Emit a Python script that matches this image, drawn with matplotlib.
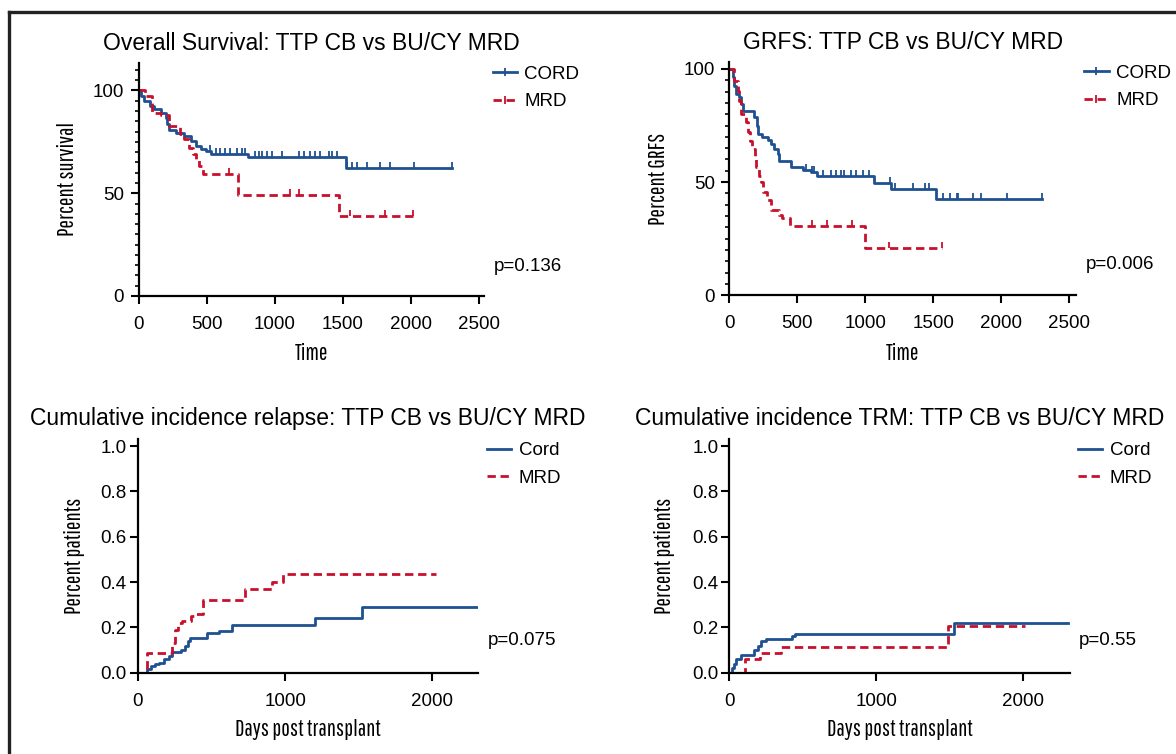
import numpy as np
import matplotlib
matplotlib.use("Agg")
import matplotlib.pyplot as plt
from matplotlib import font_manager
from matplotlib.lines import Line2D
from matplotlib.ticker import MultipleLocator

plt.rcParams['font.family'] = ['Liberation Sans', 'DejaVu Sans']

BLUE = '#1f5190'
RED = '#c8102e'

# condensed face for the axis titles, with fallbacks
installed = {f.name for f in font_manager.fontManager.ttflist}
LABEL_FONT, LABEL_SIZE = 'Liberation Sans', 10.5
for fam, size in [('Pathway Gothic One', 16.5), ('Archivo Narrow', 12.5)]:
    if fam in installed:
        LABEL_FONT, LABEL_SIZE = fam, size
        break

# ---- Overall survival (percent) ----
os_cord_t = [0, 20, 44, 81, 117, 166, 203, 212, 224, 276, 337, 386, 423, 460, 496, 533, 802, 1520, 2300]
os_cord_s = [100, 97.5, 94.8, 92.4, 90.8, 89.2, 86.7, 83.5, 81, 79.5, 77.8, 75.4, 73, 71.4, 70.5, 69, 67.4, 62.2, 62.2]
os_cord_cens = [528, 565, 601, 638, 674, 723, 760, 784, 858, 882, 907, 944, 980, 1053, 1175, 1212,
                1261, 1298, 1334, 1395, 1420, 1456, 1530, 1567, 1603, 1677, 1774, 1848, 2019, 2300]
os_mrd_t = [0, 49, 100, 166, 224, 303, 337, 373, 398, 423, 447, 472, 729, 1472, 2014]
os_mrd_s = [100, 97.2, 89.2, 88, 82.7, 78.6, 76.2, 72.2, 69, 66.5, 63.3, 59.2, 49.2, 39.1, 39.1]
os_mrd_cens = [667, 1114, 1175, 1554, 1811, 2014]

# ---- GRFS (percent) ----
gr_cord_t = [0, 24, 36, 48, 73, 85, 98, 183, 200, 213, 240, 281, 306, 330, 355, 367, 453, 539, 600,
             642, 1063, 1186, 1519, 2296]
gr_cord_s = [100, 96.3, 92.6, 89, 87.5, 84.5, 81.6, 78.7, 75, 71.3, 69.8, 68.6, 66.9, 64.6, 62.4, 59.5,
             56.6, 55.4, 54.3, 52.9, 49.8, 46.8, 42.4, 42.4]
gr_cord_cens = [563, 607, 624, 690, 747, 784, 820, 845, 894, 931, 980, 1030, 1181, 1218, 1348, 1438,
                1470, 1573, 1622, 1671, 1683, 1789, 1848, 2039, 2296]
gr_mrd_t = [0, 36, 61, 73, 85, 124, 137, 154, 169, 186, 198, 215, 230, 244, 280, 307, 362, 390, 445, 995, 1563]
gr_mrd_s = [100, 94.8, 90.4, 86, 80.1, 76.4, 72, 68.3, 64.6, 61, 56.6, 52.9, 49.9, 45.8, 42.1, 37.7,
            35.5, 34, 30.8, 20.8, 20.8]
gr_mrd_cens = [609, 720, 898, 1173, 1563]

# ---- Cumulative incidence of relapse ----
cir_cord_t = [0, 65, 91, 117, 145, 180, 210, 230, 290, 320, 340, 355, 470, 550, 640, 1200, 1519, 2306]
cir_cord_v = [0, 0.015, 0.03, 0.04, 0.045, 0.06, 0.075, 0.09, 0.10, 0.12, 0.14, 0.155, 0.175, 0.185,
              0.21, 0.24, 0.29, 0.29]
cir_mrd_t = [0, 60, 234, 250, 273, 299, 364, 390, 442, 727, 909, 987, 2026]
cir_mrd_v = [0, 0.085, 0.13, 0.19, 0.22, 0.23, 0.25, 0.26, 0.32, 0.37, 0.40, 0.435, 0.435]

# ---- Cumulative incidence of TRM ----
trm_cord_t = [0, 18, 30, 43, 81, 170, 196, 216, 246, 424, 445, 1530, 2305]
trm_cord_v = [0, 0.02, 0.04, 0.06, 0.08, 0.10, 0.12, 0.14, 0.15, 0.16, 0.17, 0.22, 0.22]
trm_mrd_t = [0, 107, 208, 348, 1487, 2013]
trm_mrd_v = [0, 0.06, 0.085, 0.115, 0.205, 0.205]

W, H = 1176, 754
fig = plt.figure(figsize=(W / 100, H / 100), dpi=100)

# frame around the figure (top and left edges visible)
fig.add_artist(Line2D([9 / W, 1], [1 - 12 / H] * 2, color='#222222', lw=2.4, transform=fig.transFigure))
fig.add_artist(Line2D([9 / W] * 2, [0, 1 - 12 / H], color='#222222', lw=2.4, transform=fig.transFigure))


def add_axes_px(left, top, right, bottom):
    return fig.add_axes([left / W, 1 - bottom / H, (right - left) / W, (bottom - top) / H])


def level_at(times, values, t):
    idx = np.searchsorted(times, t, side='right') - 1
    return np.asarray(values)[idx]


TICK_UP = [(0, 0), (0, 1)]
DASH = (0, (3, 1.7))


def style(ax, ypad):
    for side in ['top', 'right']:
        ax.spines[side].set_visible(False)
    for side in ['left', 'bottom']:
        ax.spines[side].set_linewidth(1.6)
    ax.tick_params(which='major', length=5.5, width=1.5, labelsize=13.5)
    ax.tick_params(axis='y', pad=ypad)
    ax.tick_params(axis='x', pad=9)


def km_panel(ax, cord_t, cord_s, cord_c, mrd_t, mrd_s, mrd_c):
    ax.step(cord_t, cord_s, where='post', color=BLUE, lw=2)
    ax.plot(cord_c, level_at(cord_t, cord_s, cord_c), ls='none', marker=TICK_UP, ms=9,
            mew=1.3, color=BLUE)
    ax.step(mrd_t, mrd_s, where='post', color=RED, lw=2, ls=DASH)
    ax.plot(mrd_c, level_at(mrd_t, mrd_s, mrd_c), ls='none', marker=TICK_UP, ms=9,
            mew=1.3, color=RED)
    ax.set_xticks([0, 500, 1000, 1500, 2000, 2500])
    ax.set_yticks([0, 50, 100])
    ax.yaxis.set_minor_locator(MultipleLocator(5))
    ax.tick_params(axis='y', which='minor', length=3, width=1.2)
    style(ax, 5)
    handles = [Line2D([], [], color=BLUE, lw=2, marker='|', ms=6, mew=1.3),
               Line2D([], [], color=RED, lw=2, ls=DASH, marker='|', ms=6, mew=1.3)]
    return handles


def ci_panel(ax, cord_t, cord_v, mrd_t, mrd_v):
    ax.step(cord_t, cord_v, where='post', color=BLUE, lw=2)
    ax.step(mrd_t, mrd_v, where='post', color=RED, lw=2, ls=DASH)
    ax.set_xticks([0, 1000, 2000])
    ax.set_yticks([0, 0.2, 0.4, 0.6, 0.8, 1.0])
    ax.set_yticklabels(['0.0', '0.2', '0.4', '0.6', '0.8', '1.0'])
    style(ax, 2.5)
    handles = [Line2D([], [], color=BLUE, lw=2), Line2D([], [], color=RED, lw=2, ls=DASH)]
    return handles


def legend_and_p(ax, handles, labels, wpx, ptext, pfrac):
    off = 8.5 / wpx
    ax.legend(handles, labels, loc='upper left', bbox_to_anchor=(1 + off, 1 - 3 / 233.4), frameon=False,
              borderaxespad=0, borderpad=0, handlelength=1.3, handletextpad=0.4,
              labelspacing=0.56, fontsize=13.5)
    ax.text(1 + 9.5 / wpx, pfrac, ptext, transform=ax.transAxes, fontsize=13.5,
            ha='left', va='baseline')


def labels(ax, ytext, ycoord, xtext, xcoord):
    ax.set_ylabel(ytext, family=LABEL_FONT, fontsize=LABEL_SIZE, va='center')
    ax.yaxis.set_label_coords(ycoord, 0.5)
    ax.set_xlabel(xtext, family=LABEL_FONT, fontsize=LABEL_SIZE, va='center')
    ax.xaxis.set_label_coords(0.5, xcoord)


# Panel A: overall survival
ax1 = add_axes_px(138.5, 62.7, 484, 296)
h = km_panel(ax1, os_cord_t, os_cord_s, os_cord_cens, os_mrd_t, os_mrd_s, os_mrd_cens)
ax1.set_xlim(0, 2535)
ax1.set_ylim(0, 113.5)
ax1.set_title('Overall Survival: TTP CB vs BU/CY MRD', fontsize=16.5, pad=9)
labels(ax1, 'Percent survival', -0.205, 'Time', -0.245)
legend_and_p(ax1, h, ['CORD', 'MRD'], 345.5, 'p=0.136', 0.107)

# Panel B: GRFS
ax2 = add_axes_px(729.4, 61.7, 1075.8, 295.3)
h = km_panel(ax2, gr_cord_t, gr_cord_s, gr_cord_cens, gr_mrd_t, gr_mrd_s, gr_mrd_cens)
ax2.set_xlim(0, 2547)
ax2.set_ylim(0, 103.2)
ax2.set_title('GRFS: TTP CB vs BU/CY MRD', fontsize=16.5, pad=9)
labels(ax2, 'Percent GRFS', -0.205, 'Time', -0.25)
legend_and_p(ax2, h, ['CORD', 'MRD'], 346.4, 'p=0.006', 0.111)

# Panel C: cumulative incidence of relapse
ax3 = add_axes_px(137.8, 439.3, 478.4, 672.7)
h = ci_panel(ax3, cir_cord_t, cir_cord_v, cir_mrd_t, cir_mrd_v)
ax3.set_xlim(0, 2312)
ax3.set_ylim(0, 1.03)
ax3.set_title('Cumulative incidence relapse: TTP CB vs BU/CY MRD', fontsize=16.5, pad=10.5)
labels(ax3, 'Percent patients', -0.1856, 'Days post transplant', -0.2455)
legend_and_p(ax3, h, ['Cord', 'MRD'], 340.6, 'p=0.075', 0.119)

# Panel D: cumulative incidence of TRM
ax4 = add_axes_px(729.4, 439.3, 1069.5, 672.7)
h = ci_panel(ax4, trm_cord_t, trm_cord_v, trm_mrd_t, trm_mrd_v)
ax4.set_xlim(0, 2313)
ax4.set_ylim(0, 1.03)
ax4.set_title('Cumulative incidence TRM: TTP CB vs BU/CY MRD', fontsize=16.5, pad=10.5)
labels(ax4, 'Percent patients', -0.19, 'Days post transplant', -0.2455)
legend_and_p(ax4, h, ['Cord', 'MRD'], 340.1, 'p=0.55', 0.119)

fig.savefig('out.png', dpi=100)
